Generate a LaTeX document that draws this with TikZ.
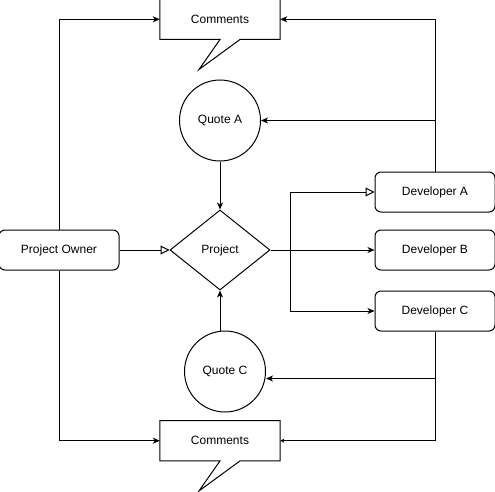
\documentclass[tikz,border=0pt]{standalone}
\usepackage{fontspec}
\setmainfont{Liberation Sans}
\usepackage{tikz}
\usetikzlibrary{positioning,arrows.meta,shapes.geometric,calc}
\definecolor{ink}{HTML}{000000}
\tikzset{
  party/.style={rectangle, rounded corners=6pt, draw=ink, line width=1pt,
                minimum width=120pt, minimum height=40pt, inner sep=0pt,
                align=center, font=\fontsize{12}{14}\selectfont},
  quotenode/.style={circle, draw=ink, line width=1pt, minimum size=81pt,
                    inner sep=0pt, align=center, font=\fontsize{12}{14}\selectfont},
  decision/.style={diamond, aspect=1.25, draw=ink, line width=1pt,
                   minimum width=100pt, minimum height=80pt, inner sep=0pt,
                   align=center, font=\fontsize{12}{14}\selectfont},
  comment/.style={rectangle, minimum width=120pt, minimum height=40pt,
                  inner sep=0pt, align=center, font=\fontsize{12}{14}\selectfont},
  bubble/.style={line width=1pt, draw=ink},
  flow/.style={-{Stealth[length=7pt, width=6pt, inset=2pt]}, line width=1pt, draw=ink},
  smallflow/.style={-{Stealth[length=4pt, width=4pt, inset=1pt]}, line width=1pt, draw=ink},
  handoff/.style={-{Triangle[open, length=9pt, width=9pt]}, line width=1pt, draw=ink},
  link/.style={line width=1pt, draw=ink}
}
\begin{document}
\begin{tikzpicture}
\useasboundingbox (0,0) rectangle (495pt,-492pt);
\node[decision] (proj) at (220pt,-250pt) {Project};
\node[party, left=50pt of proj] (owner) {Project Owner};
\node[party, right=104pt of proj] (devB) {Developer B};
\node[party, above=17pt of devB] (devA) {Developer A};
\node[party, below=20pt of devB] (devC) {Developer C};

\node[quotenode, above=48pt of proj] (qa) {Quote A};
\node[quotenode, below=40pt of proj, xshift=5pt] (qc) {Quote C};

\node[comment, above=170pt of proj] (cmtA) {Comments};
\node[comment, below=130pt of proj] (cmtC) {Comments};
\draw[bubble] (cmtA.south west) -- (cmtA.north west) -- (cmtA.north east)
  -- (cmtA.south east) -- ([xshift=20pt]cmtA.south) -- ++(-41pt,-30pt)
  -- (cmtA.south) -- cycle;
\draw[bubble] (cmtC.south west) -- (cmtC.north west) -- (cmtC.north east)
  -- (cmtC.south east) -- ([xshift=20pt]cmtC.south) -- ++(-41pt,-30pt)
  -- (cmtC.south) -- cycle;

\coordinate[right=20pt of proj] (split);
\coordinate (qaJoin) at (devA.north |- qa.east);
\coordinate (qcJoin) at ($(devC.south |- qc.east)+(0,-7pt)$);

\draw[flow] (owner) |- (cmtA);
\draw[flow] (owner) |- (cmtC);
\draw[handoff] (owner) -- (proj);
\draw[flow] (qa) -- (proj);
\draw[flow] (qc.north -| proj) -- (proj);
\draw[link] (proj) -- (split);
\draw[handoff] (split) |- (devA);
\draw[flow] (split) -- (devB);
\draw[flow] (split) |- (devC);
\draw[flow] (devA) |- (cmtA);
\draw[flow] (qaJoin) -- (qa);
\draw[smallflow] (devC) |- (cmtC);
\draw[flow] (qcJoin) -- (qcJoin -| qc.east);
\end{tikzpicture}
\end{document}
